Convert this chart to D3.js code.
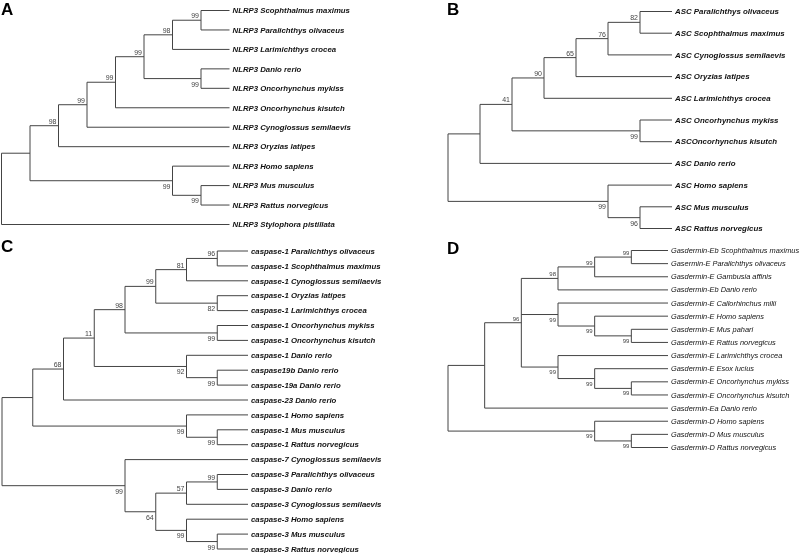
<!DOCTYPE html>
<html><head><meta charset="utf-8">
<script src="https://cdn.jsdelivr.net/npm/d3@7"></script>
<style>
html,body{margin:0;padding:0;background:#fff;}
svg{display:block;font-family:"Liberation Sans",Arial,sans-serif;will-change:transform;}
</style></head>
<body><svg id="chart" width="799" height="553"></svg>
<script>
// ---- Data: trees in Newick form, internal labels = bootstrap values ----
const panelLetters = ["A", "B", "C", "D"];

const treeA = "((((((((NLRP3 Scophthalmus maximus,NLRP3 Paralichthys olivaceus)99,NLRP3 Larimichthys crocea)98,(NLRP3 Danio rerio,NLRP3 Oncorhynchus mykiss)99)99,NLRP3 Oncorhynchus kisutch)99,NLRP3 Cynoglossus semilaevis)99,NLRP3 Oryzias latipes)98,(NLRP3 Homo sapiens,(NLRP3 Mus musculus,NLRP3 Rattus norvegicus)99)99),NLRP3 Stylophora pistillata);";

const treeB = "(((((((ASC Paralichthys olivaceus,ASC Scophthalmus maximus)82,ASC Cynoglossus semilaevis)76,ASC Oryzias latipes)65,ASC Larimichthys crocea)90,(ASC Oncorhynchus mykiss,ASCOncorhynchus kisutch)99)41,ASC Danio rerio),(ASC Homo sapiens,(ASC Mus musculus,ASC Rattus norvegicus)96)99);";

const treeC = "((((((((caspase-1 Paralichthys olivaceus,caspase-1 Scophthalmus maximus)96,caspase-1 Cynoglossus semilaevis)81,(caspase-1 Oryzias latipes,caspase-1 Larimichthys crocea)82)99,(caspase-1 Oncorhynchus mykiss,caspase-1 Oncorhynchus kisutch)99)98,(caspase-1 Danio rerio,(caspase19b Danio rerio,caspase-19a Danio rerio)99)92)11,caspase-23 Danio rerio)68,(caspase-1 Homo sapiens,(caspase-1 Mus musculus,caspase-1 Rattus norvegicus)99)99),(caspase-7 Cynoglossus semilaevis,(((caspase-3 Paralichthys olivaceus,caspase-3 Danio rerio)99,caspase-3 Cynoglossus semilaevis)57,(caspase-3 Homo sapiens,(caspase-3 Mus musculus,caspase-3 Rattus norvegicus)99)99)64)99);";

const treeD = "((((((Gasdermin-Eb Scophthalmus maximus,Gasermin-E Paralichthys olivaceus)99,Gasdermin-E Gambusia affinis)99,Gasdermin-Eb Danio rerio)98,(Gasdermin-E Callorhinchus milii,(Gasdermin-E Homo sapiens,(Gasdermin-E Mus pahari,Gasdermin-E Rattus norvegicus)99)99)99,(Gasdermin-E Larimichthys crocea,(Gasdermin-E Esox lucius,(Gasdermin-E Oncorhynchus mykiss,Gasdermin-E Oncorhynchus kisutch)99)99)99)96,Gasdermin-Ea Danio rerio),(Gasdermin-D Homo sapiens,(Gasdermin-D Mus musculus,Gasdermin-D Rattus norvegicus)99)99);";

// ---- Newick parser ----
function parseNewick(s) {
  let i = 0;
  function node() {
    const n = {};
    if (s[i] === "(") {
      i++;
      n.children = [];
      while (true) {
        n.children.push(node());
        if (s[i] === ",") { i++; continue; }
        if (s[i] === ")") { i++; break; }
      }
    }
    let lab = "";
    while (i < s.length && !",();".includes(s[i])) lab += s[i++];
    lab = lab.trim();
    if (n.children) { if (lab) n.support = lab; } else n.name = lab;
    return n;
  }
  return node();
}

// ---- Layout per panel (positions / styles) ----
const layouts = [
  {tree: treeA, letter: [1, 15],   x0: 1.5, x1: 229.5, y0: 10.5, y1: 224.5, leafFont: 7.8, leafWeight: "bold", bsFont: 7},
  {tree: treeB, letter: [447, 15], x0: 448, x1: 672,   y0: 11.5, y1: 228.5, leafFont: 7.9, leafWeight: "bold", bsFont: 7},
  {tree: treeC, letter: [1, 252],  x0: 2,   x1: 248,   y0: 251,  y1: 549,   leafFont: 7.8, leafWeight: "bold", bsFont: 7},
  {tree: treeD, letter: [447, 254],x0: 448, x1: 668,   y0: 250.5,y1: 447.5, leafFont: 7.4, leafWeight: "normal", bsFont: 6}
];

const svg = d3.select("#chart");
const lineColor = "#444";

layouts.forEach((L, pi) => {
  const g = svg.append("g");
  const root = d3.hierarchy(parseNewick(L.tree));
  d3.cluster().nodeSize([1, 1]).separation(() => 1)(root);
  // internal node vertical position = midpoint of first and last child
  root.eachAfter(n => {
    if (n.children) n.x = (n.children[0].x + n.children[n.children.length - 1].x) / 2;
  });
  const leaves = root.leaves();
  const xs = d3.scaleLinear().domain([0, root.height]).range([L.x0, L.x1]);
  const ys = d3.scaleLinear().domain([leaves[0].x, leaves[leaves.length - 1].x]).range([L.y0, L.y1]);

  const path = d3.path();
  root.each(n => {
    const nx = xs(n.y), ny = ys(n.x);
    if (n.children) {
      const c0 = n.children[0], c1 = n.children[n.children.length - 1];
      path.moveTo(nx, ys(c0.x));
      path.lineTo(nx, ys(c1.x));
    }
    if (n.parent) {
      path.moveTo(xs(n.parent.y), ny);
      path.lineTo(nx, ny);
    }
  });
  g.append("path").attr("d", path.toString())
    .attr("fill", "none").attr("stroke", lineColor).attr("stroke-width", 1);

  // leaf labels
  g.selectAll("text.leaf").data(leaves).join("text")
    .attr("class", "leaf")
    .attr("x", d => xs(d.y) + 3)
    .attr("y", d => ys(d.x))
    .attr("dy", "0.35em")
    .attr("font-size", L.leafFont)
    .attr("font-weight", L.leafWeight)
    .attr("font-style", "italic")
    .attr("fill", "#111")
    .text(d => d.data.name);

  // bootstrap labels
  const supp = root.descendants().filter(d => d.data.support && d.parent);
  g.selectAll("text.bs").data(supp).join("text")
    .attr("class", "bs")
    .attr("x", d => xs(d.y) - 2)
    .attr("y", d => {
      const first = d.parent.children[0] === d;
      return first ? ys(d.x) - 2 : ys(d.x) + L.bsFont + 1;
    })
    .attr("text-anchor", "end")
    .attr("font-size", L.bsFont)
    .attr("fill", "#444")
    .text(d => d.data.support);

  // panel letter
  svg.append("text")
    .attr("x", L.letter[0]).attr("y", L.letter[1])
    .attr("font-size", 17).attr("font-weight", "bold")
    .attr("fill", "#000")
    .text(panelLetters[pi]);
});
</script>
</body></html>
